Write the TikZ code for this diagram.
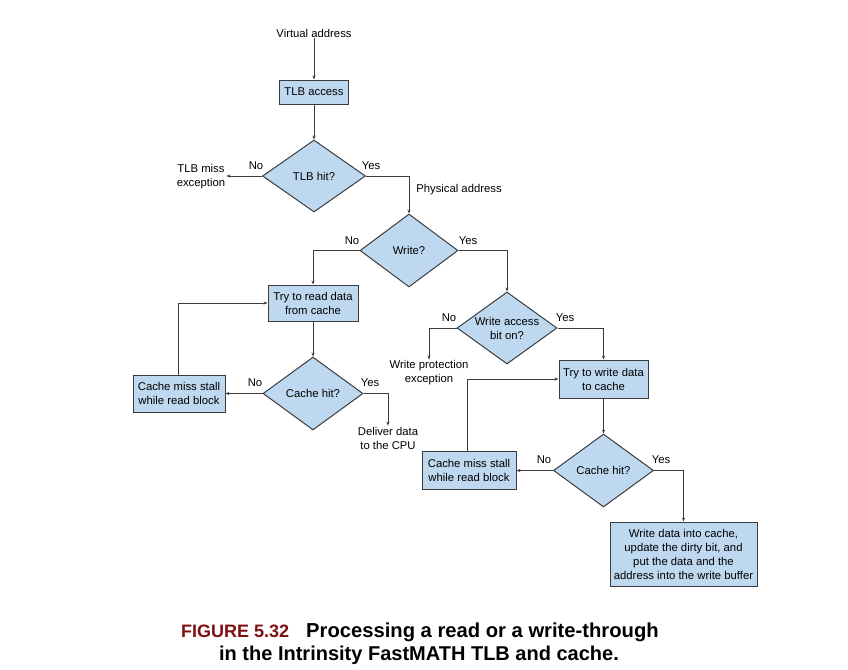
\documentclass[tikz,border=0pt]{standalone}
\usepackage{fontspec}
\setmainfont{Liberation Sans}
\usetikzlibrary{shapes.geometric,arrows.meta}
\definecolor{bluef}{RGB}{190,216,240}
\definecolor{linec}{RGB}{60,60,60}
\definecolor{figred}{RGB}{128,16,16}
\begin{document}
\begin{tikzpicture}[x=1pt,y=-1pt,
  txt/.style={font=\fontsize{11.3}{14}\selectfont, text=black, align=center, inner sep=1pt},
  box/.style={txt, draw=linec, fill=bluef, line width=1pt, inner sep=0pt},
  dia/.style={draw=linec, fill=bluef, line width=1pt, diamond, inner sep=0pt},
  lab/.style={txt},
  arr/.style={draw=linec, line width=1pt, -{Stealth[length=4pt,width=3.2pt]}}]
\useasboundingbox (0,0) rectangle (848,669);

% boxes
\node[box, minimum width=69pt, minimum height=24pt] (tlb) at (314,92) {TLB access};
\node[box, minimum width=90pt, minimum height=36pt] (rd) at (313,303) {Try to read data\\from cache};
\node[box, minimum width=92pt, minimum height=37pt] (miss1) at (179,393.5) {Cache miss stall\\while read block};
\node[box, minimum width=89pt, minimum height=38pt] (wr) at (603.5,379) {Try to write data\\to cache};
\node[box, minimum width=94pt, minimum height=38pt] (miss2) at (469,470.5) {Cache miss stall\\while read block};
\node[box, minimum width=147pt, minimum height=64pt] (fin) at (683.5,554) {Write data into cache,\\update the dirty bit, and\\put the data and the\\address into the write buffer};

% diamonds
\node[dia, minimum width=103pt, minimum height=72pt, label={[txt]center:TLB hit?}] (tlbhit) at (314,176) {};
\node[dia, minimum width=98pt, minimum height=73pt, label={[txt]center:Write?}] (write) at (409,250.5) {};
\node[dia, minimum width=100pt, minimum height=72pt, label={[txt]center:Write access\\bit on?}] (wab) at (507,328) {};
\node[dia, minimum width=100pt, minimum height=73pt, label={[txt]center:Cache hit?}] (ch1) at (313,393.5) {};
\node[dia, minimum width=100pt, minimum height=73pt, label={[txt]center:Cache hit?}] (ch2) at (603.5,470.5) {};

% plain texts
\node[txt] (va) at (314,33) {Virtual address};
\node[txt] (tlbmiss) at (201,177) {TLB miss\\exception};
\node[txt] (pa) at (459,190) {Physical address};
\node[txt] (wpe) at (429,373) {Write protection\\exception};
\node[txt] (deliver) at (388,438) {Deliver data\\to the CPU};

% yes / no labels
\node[lab] (n1) at (256,166) {No};
\node[lab] (y1) at (371,166) {Yes};
\node[lab] (n2) at (352,241) {No};
\node[lab] (y2) at (468,241) {Yes};
\node[lab] (n3) at (255,383) {No};
\node[lab] (y3) at (370,383) {Yes};
\node[lab] (n4) at (449,318) {No};
\node[lab] (y4) at (565,318) {Yes};
\node[lab] (n5) at (544,460) {No};
\node[lab] (y5) at (661,460) {Yes};

% connectors
\draw[arr] (va) -- (tlb);
\draw[arr] (tlb) -- (tlbhit);
\draw[arr] (tlbhit.west) -- (tlbhit.west -| tlbmiss.east);
\draw[arr] (tlbhit.east) -| (write.north);
\draw[arr] (write.west) -| (rd.north);
\draw[arr] (write.east) -| (wab.north);
\draw[arr] (rd) -- (ch1);
\draw[arr] (ch1.west) -- (miss1.east);
\draw[arr] ([xshift=-1pt]miss1.north) |- (rd.west);
\draw[arr] (ch1.east) -| (deliver.north);
\draw[arr] (wab.west) -| (wpe.north);
\draw[arr] (wab.east) -| (wr.north);
\draw[arr] (wr) -- (ch2);
\draw[arr] (ch2.west) -- (miss2.east);
\draw[arr] ([xshift=-2pt]miss2.north) |- (wr.west);
\draw[arr] (ch2.east) -| (fin.north);

% caption
\node[inner sep=0pt, anchor=west] (cap1) at (181,632) {\bfseries{\fontsize{18}{21}\selectfont\color{figred}FIGURE 5.32}\hspace{17pt}\fontsize{20.2}{23}\selectfont Processing a read or a write-through};
\node[inner sep=0pt] (cap2) at (419,655) {\bfseries\fontsize{20}{23}\selectfont in the Intrinsity FastMATH TLB and cache.};
\end{tikzpicture}
\end{document}
